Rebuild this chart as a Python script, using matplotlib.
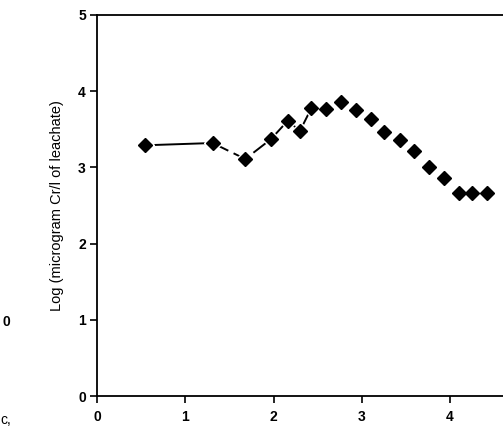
import numpy as np
import matplotlib.pyplot as plt

plt.rcParams['font.family'] = ['Liberation Sans', 'DejaVu Sans']

# values
x_pts = [0.54, 1.31, 1.68, 1.97, 2.16, 2.30, 2.43, 2.60, 2.77, 2.94,
         3.10, 3.25, 3.43, 3.59, 3.76, 3.93, 4.10, 4.25, 4.42]
y_pts = [3.29, 3.32, 3.11, 3.37, 3.61, 3.48, 3.78, 3.76, 3.86, 3.75,
         3.64, 3.47, 3.36, 3.22, 3.00, 2.86, 2.67, 2.67, 2.66]

xticks = [0, 1, 2, 3, 4]
yticks = [0, 1, 2, 3, 4, 5]

fig = plt.figure(figsize=(5.03, 4.32), dpi=100)
ax = fig.add_axes([0.1928, 0.0833, 0.8072, 0.882])

x = np.array(x_pts)
y = np.array(y_pts)

# hand drawn joining line: solid first stretch, dashed after
ax.plot(x[:2], y[:2], '-', color='black', lw=1.4, zorder=1)
ax.plot(x[1:7], y[1:7], '-', color='black', lw=1.4, dashes=(9, 3), zorder=1)

# white halo so the line stops short of each marker
ax.plot(x[:7], y[:7], 'D', ms=9, color='white', mec='white', zorder=2)
ax.plot(x, y, 'D', ms=6.8, color='black', mec='black', zorder=3)

ax.set_xlim(0, 4.6)
ax.set_ylim(0, 5)
ax.set_xticks(xticks)
ax.set_yticks(yticks)
ax.set_xticklabels([str(t) for t in xticks], fontsize=10, fontweight='bold')
ax.set_yticklabels([str(t) for t in yticks], fontsize=10, fontweight='bold')
ax.tick_params(direction='out', length=5, width=1.2, pad=3)
ax.tick_params(axis='x', pad=5)

ax.spines['right'].set_visible(False)
for s in ['left', 'bottom', 'top']:
    ax.spines[s].set_linewidth(1.3)

ax.set_ylabel('Log (microgram Cr/l of leachate)', fontsize=10.5, labelpad=10)

# leftovers from the neighbouring panel in the scan
fig.text(0.004, 1 - 322 / 432, '0', fontsize=10, fontweight='bold', va='center')
fig.text(0.0, 1 - 420 / 432, 'c,', fontsize=10, va='center')

fig.savefig('out.png', dpi=100)
